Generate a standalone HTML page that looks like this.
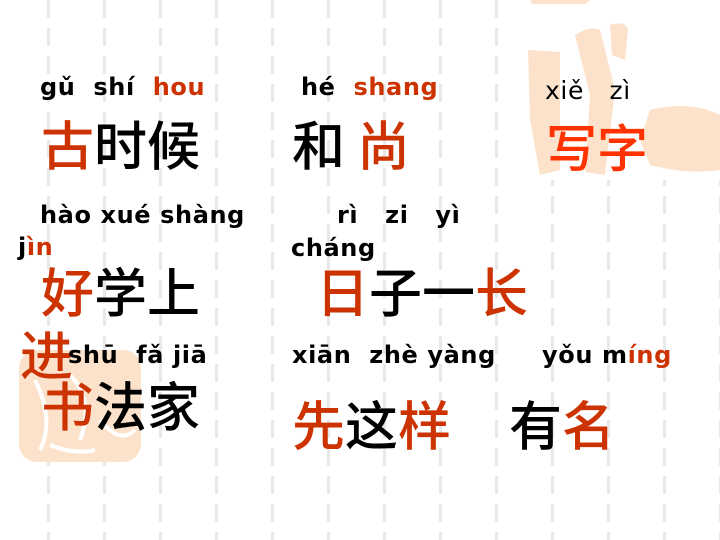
<!DOCTYPE html>
<html><head><meta charset="utf-8"><style>
body{margin:0}
#s{position:relative;width:720px;height:540px;overflow:hidden;background:#fff;font-family:"Liberation Sans","Noto Sans CJK SC",sans-serif}
.py{position:absolute;font-weight:bold;font-size:24px;line-height:1;white-space:pre;color:#000;font-family:"DejaVu Sans","Liberation Sans",sans-serif;letter-spacing:0.6px}
.hz{position:absolute;font-size:53px;line-height:1;white-space:pre;font-family:"Noto Sans CJK SC",sans-serif;font-weight:500;color:#000}
.r{color:#cc3300}
</style></head><body>
<div id="s">
<svg width="720" height="540" style="position:absolute;left:0;top:0">
<defs><pattern id="d" width="56" height="28" patternUnits="userSpaceOnUse" x="47"><rect x="0" y="0" width="3" height="18" fill="#e8e8e8"/></pattern></defs>
<rect x="0" y="0" width="720" height="540" fill="url(#d)"/>
<rect x="528" y="0" width="192" height="180" fill="#fff"/>
<g fill="#fde2cb">
<path d="M528 50 L560 52 L560 170 L540 175 L530 120 Z"/>
<path d="M575 35 Q590 25 600 30 L615 90 L605 175 L585 172 L590 95 Z"/>
<path d="M610 25 Q625 20 628 30 L625 60 L612 55 Z"/>
<path d="M650 110 Q690 100 720 115 L720 170 Q690 175 650 165 L640 140 Z"/>
<path d="M530 0 L590 0 L585 4 L532 4 Z"/>
</g>
<g>
<rect x="19" y="350" width="122" height="112" rx="18" fill="#fde2cb"/>
<path d="M35 380 Q55 420 40 450 M70 375 Q95 400 80 440 M100 420 Q120 445 135 430 M50 445 Q75 455 95 450" stroke="#fff" stroke-width="4" fill="none"/>
</g>
</svg>
<div class="py" style="left:40px;top:75px">gǔ  shí  <span class="r">hou</span></div>
<div class="py" style="left:301px;top:75px">hé  <span class="r">shang</span></div>
<div class="py" style="left:545px;top:78px;font-weight:normal;font-size:25px">xiě   zì</div>
<div class="hz" style="left:41px;top:117px"><span class="r">古</span>时候</div>
<div class="hz" style="left:292px;top:117px">和 <span class="r">尚</span></div>
<div class="hz" style="left:546px;top:120px;font-size:51px;color:#ff3300">写字</div>
<div class="py" style="left:40px;top:203px">hào xué shàng</div>
<div class="py" style="left:18px;top:235px">j<span class="r">ìn</span></div>
<div class="py" style="left:337px;top:203px">rì   zi   yì</div>
<div class="py" style="left:291px;top:236px">cháng</div>
<div class="hz" style="left:41px;top:264px"><span class="r">好</span>学上</div>
<div class="hz" style="left:316px;top:264px"><span class="r">日</span>子一<span class="r">长</span></div>
<div class="hz r" style="left:20px;top:327px">进</div>
<div class="py" style="left:68px;top:343px">shū  fǎ jiā</div>
<div class="py" style="left:292px;top:343px">xiān  zhè yàng</div>
<div class="py" style="left:542px;top:343px">yǒu m<span class="r">íng</span></div>
<div class="hz" style="left:41px;top:378px"><span class="r">书</span>法家</div>
<div class="hz" style="left:292px;top:397px"><span class="r">先</span>这<span class="r">样</span></div>
<div class="hz" style="left:509px;top:397px">有<span class="r">名</span></div>
</div>
</body></html>
